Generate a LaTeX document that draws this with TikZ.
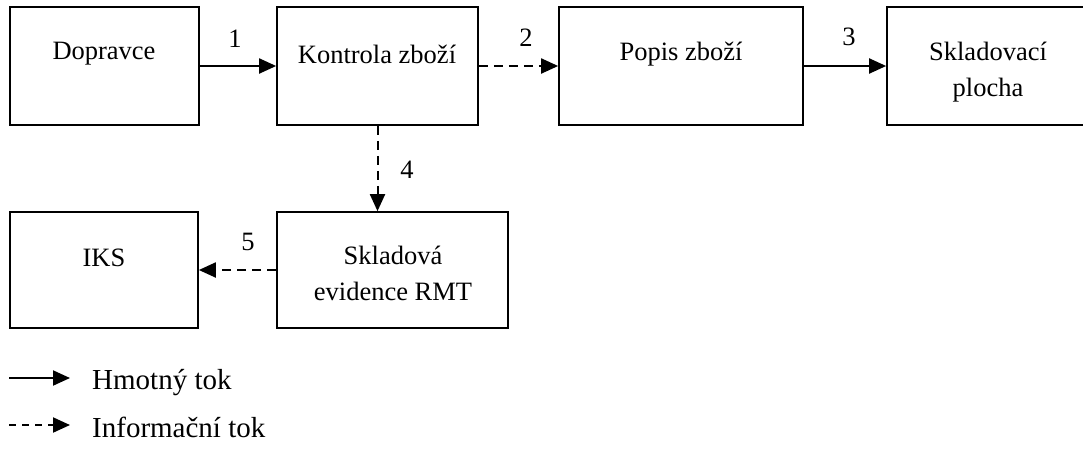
\documentclass[tikz,border=0pt]{standalone}
\usepackage{fontspec}
\setmainfont{Liberation Serif}
\usetikzlibrary{arrows.meta}
\begin{document}
\begin{tikzpicture}[x=1pt,y=-1pt,
  box/.style={draw, line width=1.7pt, inner sep=0pt, minimum height=118pt},
  txt/.style={inner sep=0pt, align=center, font=\fontsize{26.5}{36}\selectfont},
  legtxt/.style={inner sep=0pt, anchor=west, font=\fontsize{29}{35}\selectfont},
  flow/.style={line width=2pt, -{Triangle[length=17pt,width=15pt]}},
  info/.style={flow, dash pattern=on 9pt off 6pt},
  leginfo/.style={flow, dash pattern=on 7pt off 6pt}]
\useasboundingbox (0,0) rectangle (1083,448);

% process boxes
\node[box, minimum width=189pt] (dop) at (104.5,66) {};
\node[box, minimum width=201pt] (kon) at (377.5,66) {};
\node[box, minimum width=244pt] (pop) at (681,66) {};
\node[box, minimum width=203pt] (skl) at (988.5,66) {};
\node[box, minimum width=188pt, minimum height=116pt] (iks) at (104,270) {};
\node[box, minimum width=231pt, minimum height=116pt] (evi) at (392.5,270) {};

% box texts
\node[txt] (tdop) at (104,54) {Dopravce};
\node[txt] (tkon) at (377,54) {Kontrola zboží};
\node[txt] (tpop) at (681,54) {Popis zboží};
\node[txt] (tskl) at (988,72) {Skladovací\\plocha};
\node[txt] (tiks) at (104,258) {IKS};
\node[txt] (tevi) at (393,273) {Skladová\\evidence RMT};

% flows
\draw[flow] (dop.east) -- (kon.west);
\draw[info] (kon.east) -- (pop.west);
\draw[flow] (pop.east) -- (skl.west);
\draw[info] (kon.south) -- (kon.south |- evi.north);
\draw[info] (evi.west) -- (iks.east);

% flow numbers
\node[txt] (n1) at (235,39) {1};
\node[txt] (n2) at (526,38) {2};
\node[txt] (n3) at (849,37) {3};
\node[txt] (n4) at (407,170) {4};
\node[txt] (n5) at (248,242) {5};

% legend
\coordinate (l1a) at (9,378);
\coordinate (l1b) at (70,378);
\coordinate (l2a) at (9,425);
\coordinate (l2b) at (70,425);
\draw[flow] (l1a) -- (l1b);
\draw[leginfo] (l2a) -- (l2b);
\node[legtxt] (lt1) at (92,383) {Hmotný tok};
\node[legtxt] (lt2) at (92,427) {Informační tok};
\end{tikzpicture}
\end{document}
